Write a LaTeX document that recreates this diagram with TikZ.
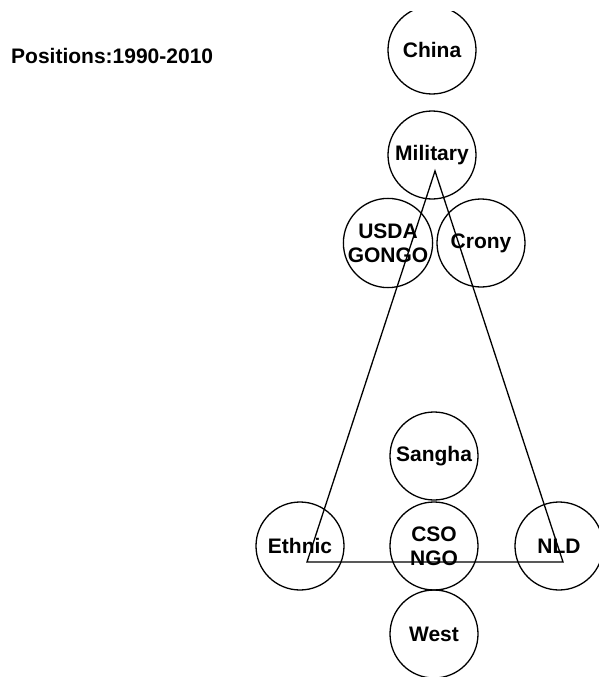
\documentclass[tikz,border=0pt]{standalone}
\usepackage{fontspec}
\setmainfont{Liberation Sans}
\begin{document}
\begin{tikzpicture}[x=1pt,y=-1pt,
  actor/.style={circle,draw,line width=1.3pt,minimum size=88pt,inner sep=0pt,align=center,
    font=\fontsize{21}{24}\selectfont\bfseries},
  tri/.style={line width=1.3pt,line join=miter}]
\useasboundingbox (0,0) rectangle (599,677);
\begin{scope}
\clip (0,12) rectangle (599,677);
\node[actor] (china) at (432,50) {China};
\end{scope}
\node[anchor=west,inner sep=0pt,font=\fontsize{21}{24}\selectfont\bfseries] (title) at (11,56) {Positions:1990-2010};
\node[actor] (military) at (432,155) {Military};
\node[actor,minimum size=85pt] (usda) at (388,243) {USDA\\GONGO};
\node[actor] (crony) at (481,243) {Crony};
\node[actor] (sangha) at (434,456) {Sangha};
\node[actor] (cso) at (434,546) {CSO\\NGO};
\node[actor] (west) at (434,634) {West};
\node[actor] (ethnic) at (300,546) {Ethnic};
\node[actor] (nld) at (559,546) {NLD};
\coordinate (apex) at (435,171);
\coordinate (bl) at (307,562);
\coordinate (br) at (563,562);
\draw[tri] (apex) -- (br) -- (bl) -- cycle;
\end{tikzpicture}
\end{document}
